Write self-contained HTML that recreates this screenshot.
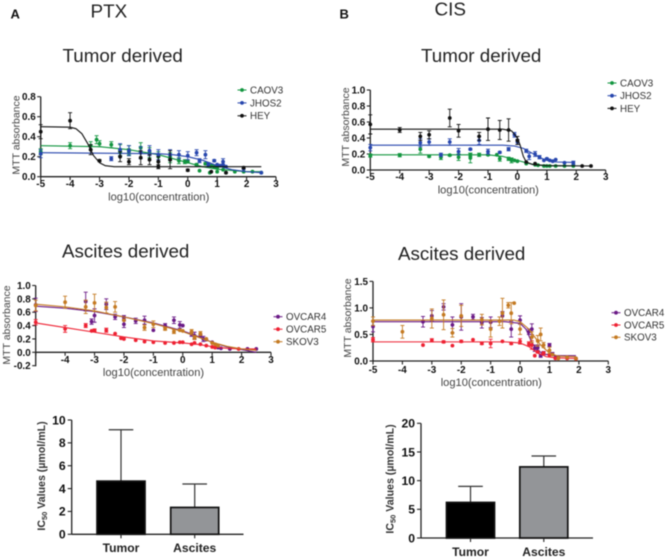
<!DOCTYPE html>
<html lang="en">
<head>
<meta charset="utf-8">
<title>PTX and CIS dose response charts</title>
<style>
html,body{margin:0;padding:0;background:#fff;}
body{width:666px;height:557px;overflow:hidden;}
svg{display:block;font-family:"Liberation Sans",Arial,sans-serif;filter:blur(0.5px);}
</style>
</head>
<body>
<svg id="figure" width="666" height="557" viewBox="0 0 666 557" xmlns="http://www.w3.org/2000/svg">
<text x="10.5" y="18.5" font-size="13" font-weight="bold" fill="#111">A</text>
<text x="339.5" y="18.5" font-size="13" font-weight="bold" fill="#111">B</text>
<text x="90.5" y="17.5" font-size="18.9" fill="#222">PTX</text>
<text x="434.5" y="15.5" font-size="18.9" fill="#222">CIS</text>
<text x="62.5" y="62" font-size="18.8" fill="#222">Tumor derived</text>
<text x="421" y="62" font-size="18.8" fill="#222">Tumor derived</text>
<text x="62" y="257.5" font-size="18.8" fill="#222">Ascites derived</text>
<text x="398" y="260" font-size="18.8" fill="#222">Ascites derived</text>
</svg>
<script>
// ---- Tick labels ----
const doseTicks = [-5,-4,-3,-2,-1,0,1,2,3];
const ascDoseTicks = [-4,-3,-2,-1,0,1,2,3];
const yTicksA = [0,0.2,0.4,0.6,0.8];
const yTicksB = [0,0.2,0.4,0.6,0.8,1.0];
const yTicksC = [-0.2,0,0.2,0.4,0.6,0.8,1.0];
const yTicksD = [0,0.5,1.0,1.5];
const barTicksA = [0,2,4,6,8,10];
const barTicksB = [0,5,10,15,20];
const barCategories = ["Tumor","Ascites"];

// ---- PTX tumor ----
const ptCaovX = [-5,-4,-3.3,-3.1,-3,-2.6,-2.3,-2.3,-2,-2,-1.6,-1.3,-1,-0.6,-0.6,-0.3,-0.1,0,0.3,0.4,0.6,0.75,0.8,0.9,1,1,1.2,1.3,1.6,1.9,2.2,2.5];
const ptCaovY = [.25,.31,.31,.37,.33,.32,.26,.24,.26,.25,.29,.24,.20,.18,.20,.16,.15,.15,.12,.06,.13,.04,.11,.10,.05,.09,.07,.04,.05,.05,.05,.04];
const ptCaovE = [.03,.03,.04,.04,.03,.03,.06,.03,.05,.03,.05,.05,.05,.04,.04,.03,.02,.01,.01,0,.01,0,0,0,0,0,0,0,0,0,0,0];
const ptCaovCurveX = [-5,-3,-2,-1,-0.5,0,0.5,1,2,2.5];
const ptCaovCurveY = [.31,.30,.27,.22,.18,.14,.10,.075,.05,.05];
const ptJhosX = [-5,-2.6,-2.3,-2,-1.6,-1.3,-1,-0.6,-0.3,0,0.3,0.4,0.6,0.7,0.9,1,1.1,1.2,1.2,1.3,1.9,2.5];
const ptJhosY = [.23,.18,.27,.26,.24,.26,.22,.22,.22,.21,.24,.16,.22,.12,.16,.12,.11,.15,.12,.10,.08,.04];
const ptJhosE = [.04,.02,.06,.05,.06,.05,.05,.05,.04,.04,.03,.02,.04,.02,.01,0,0,.03,0,0,0,0];
const ptJhosCurveX = [-5,-1,-0.5,0,0.5,1,1.5,2,2.5];
const ptJhosCurveY = [.24,.23,.22,.20,.165,.11,.07,.05,.04];
const ptHeyX = [-5,-4,-3.3,-3,-2.3,-2,-1.6,-1.3,-1,-1,-0.6,0,0.8,1.3,1.9];
const ptHeyY = [.45,.56,.27,.16,.20,.15,.19,.17,.15,.10,.17,.065,.05,.04,.09];
const ptHeyE = [.07,.08,.05,.01,.05,.03,.07,.05,.05,.02,.09,.01,0,0,.01];
const ptHeyCurveX = [-5,-4,-3.8,-3.6,-3.4,-3.3,-3.2,-3,-2.8,-2.5,2.5];
const ptHeyCurveY = [.50,.495,.48,.43,.33,.27,.21,.14,.11,.10,.10];

// ---- CIS tumor ----
const ctCaovX = [-5,-4,-3.3,-3,-2.6,-2.3,-2,-1.6,-1.6,-1.3,-1,-0.7,-0.6,-0.3,-0.2,-0.1,0,0.3,0.3,0.6,0.7,0.9,1,1.1,1.3,1.6,1.9];
const ctCaovY = [.18,.185,.26,.17,.16,.185,.16,.15,.19,.19,.19,.19,.14,.14,.12,.12,.11,.08,.09,.065,.06,.05,.05,.05,.05,.05,.05];
const ctCaovE = [.02,.02,.05,.01,.03,.01,.04,.06,.02,.02,.01,0,.03,.02,.03,0,0,0,0,0,0,0,0,0,0,0,0];
const ctCaovCurveX = [-5,-1,-0.5,0,0.3,0.6,1,1.9];
const ctCaovCurveY = [.19,.19,.17,.12,.09,.065,.05,.05];
const ctJhosX = [-5,-3.3,-3,-2.6,-2.3,-2,-1.6,-1.3,-1,-0.6,-0.3,-0.1,0,0.3,0.4,0.6,0.75,0.9,1,1.1,1.2,1.3,1.6,1.9];
const ctJhosY = [.28,.34,.35,.19,.35,.23,.26,.37,.23,.22,.26,.44,.35,.24,.17,.20,.16,.12,.14,.12,.11,.13,.09,.09];
const ctJhosE = [.04,.05,.04,.02,.04,.04,.01,.05,.03,.01,.02,.03,.03,.02,.04,.03,.02,0,.01,0,0,0,0,.02];
const ctJhosCurveX = [-5,-0.5,-0.1,0.2,0.5,0.8,1,1.3,1.9];
const ctJhosCurveY = [.31,.31,.30,.27,.21,.15,.12,.10,.095];
const ctHeyX = [-5,-4,-3.3,-3,-2.3,-2,-1.3,-1,-0.6,-0.3,0,0.3,0.6,2.2,2.5];
const ctHeyY = [.57,.50,.42,.44,.65,.49,.42,.51,.50,.50,.37,.10,.08,.05,.05];
const ctHeyE = [.12,.03,.05,.05,.11,.08,.05,.14,.12,.14,.05,0,0,0,0];
const ctHeyCurveX = [-5,-0.5,-0.2,0,0.1,0.2,0.3,0.5,1,2.5];
const ctHeyCurveY = [.51,.51,.49,.40,.30,.17,.10,.07,.055,.05];

// ---- PTX ascites ----
const paOv4X = [-5,-3.3,-3.1,-3,-2.6,-2.3,-2,-2,-1.6,-1.3,-1,-0.6,-0.3,-0.1,0,0.3,0.4,0.6,0.7,0.8,1,1.2,1.3,1.6,2.2,2.5];
const paOv4Y = [.71,.76,.46,.55,.72,.53,.42,.52,.47,.48,.33,.40,.48,.41,.40,.27,.25,.25,.20,.19,.15,.07,.06,.05,.05,.05];
const paOv4E = [.10,.14,.04,.10,.08,.04,.05,.03,.04,.06,0,.03,.05,.05,0,.03,.05,.02,.04,0,0,0,0,0,0,0];
const paOv4CurveX = [-5,-4,-3,-2,-1,0,0.5,1,1.5,2,2.5];
const paOv4CurveY = [.69,.66,.61,.53,.44,.32,.24,.15,.08,.04,0];
const paOv5X = [-5,-4,-3.3,-3.1,-3,-2.6,-2.3,-2.1,-2,-1.6,-1.3,-1,-0.6,-0.3,-0.1,0,0.3,0.4,0.6,0.8,1,1.1,1.9];
const paOv5Y = [.45,.35,.40,.32,.33,.33,.28,.21,.20,.18,.16,.15,.14,.14,.15,.15,.12,.14,.12,.10,.08,.07,.05];
const paOv5E = [.04,.05,.03,0,.02,.03,0,0,0,0,0,0,0,0,0,0,0,0,0,0,0,0,0];
const paOv5CurveX = [-5,-4,-3,-2,-1,0,0.5,1,1.5,2,2.5];
const paOv5CurveY = [.44,.37,.30,.23,.17,.14,.12,.085,.06,.05,.05];
const paSkX = [-5,-4,-3.3,-3,-2.6,-2.3,-2,-1.3,-1,-0.6,-0.3,-0.1,0,0.3,0.4,0.6,0.8,1,1.1,1.2];
const paSkY = [.70,.75,.68,.74,.67,.68,.48,.37,.42,.35,.31,.33,.32,.31,.22,.28,.20,.14,.12,.10];
const paSkE = [.08,.09,.10,.13,.08,.08,0,.04,.05,.02,.03,0,0,.03,.03,.03,0,0,0,0];
const paSkCurveX = [-5,-4,-3,-2,-1,0,0.5,1,1.5,2,2.5];
const paSkCurveY = [.72,.68,.62,.53,.43,.31,.23,.15,.09,.05,.03];

// ---- CIS ascites ----
const caOv4X = [-5,-3.3,-3,-2.6,-2.3,-2,-1.6,-1.3,-1,-0.6,-0.3,0,0.3,0.4,0.5,0.6,0.7,0.8,1,1.1,1.2,1.3,1.9];
const caOv4Y = [.65,.74,.85,1.02,.68,.83,.83,.72,.73,.85,.60,.77,.55,.60,.24,.25,.10,.15,.30,.13,.06,.07,.05];
const caOv4E = [.10,.10,.10,.06,.15,.25,.05,.10,.10,.08,.15,.08,.05,.10,.06,.05,.03,.03,.03,.03,0,0,0];
const caOv4CurveX = [-5,-0.5,0,0.2,0.4,0.6,0.8,1.2,1.9];
const caOv4CurveY = [.74,.74,.71,.60,.35,.20,.13,.10,.10];
const caOv5X = [-5,-3.3,-3,-2.6,-2.3,-2,-1.6,-1.3,-1,-0.6,-0.3,0,0.3,0.4,0.5,0.6,0.8,1,1.2,1.3,1.6,1.9];
const caOv5Y = [.40,.30,.39,.36,.29,.37,.40,.33,.33,.37,.33,.37,.32,.30,.10,.17,.15,.11,.05,.05,.05,.04];
const caOv5E = [.04,0,.03,.02,0,.02,0,.02,.08,0,.02,.05,.04,.08,0,.02,.02,0,0,0,0,0];
const caOv5CurveX = [-5,-0.5,0,0.3,0.6,0.9,1.2,1.9];
const caOv5CurveY = [.36,.36,.34,.27,.15,.08,.06,.05];
const caSkX = [-5,-4,-3,-2.6,-2.3,-2,-1.3,-1,-0.7,-0.6,-0.4,-0.3,-0.2,0,0.4,0.6,0.7,0.8,1,1.1,1.3,1.6,1.9];
const caSkY = [.75,.55,.80,.87,.53,.85,.78,.60,.75,.90,1.05,.90,1.09,.60,.45,.38,.50,.30,.20,.12,.05,.07,.05];
const caSkE = [.08,.12,.18,.28,.08,.20,.10,.15,.08,.28,.05,.20,0,.10,.10,.10,.12,.05,.06,0,0,0,0];
const caSkCurveX = [-5,-0.2,0,0.3,0.5,0.7,1,1.3,1.9];
const caSkCurveY = [.77,.77,.74,.60,.45,.30,.15,.09,.08];

// ---- IC50 bars ----
const ptxBarValues = [4.65,2.35];
const ptxBarUpper = [9.15,4.4];
const cisBarValues = [6.2,12.4];
const cisBarUpper = [9.0,14.3];

const NS = "http://www.w3.org/2000/svg";
const fig = document.getElementById("figure");
const GREEN="#12953f", BLUE="#2746ad", BLACK="#111111", PURPLE="#6a1a86", RED="#ee2233", ORANGE="#c47a22";

function make(tag, parent, attrs, text){
  const el = document.createElementNS(NS, tag);
  for (const k in attrs) el.setAttribute(k, attrs[k]);
  if (text !== undefined) el.textContent = text;
  parent.appendChild(el);
  return el;
}

function fmt(v){ return v.toFixed(1); }

function drawPanel(p){
  const sx = v => p.x0 + (v - (-5)) * (p.x1 - p.x0) / 8;
  const sy = v => p.yZero - v * p.yUnit;
  const g = make("g", fig, {});
  
  

  // axes
  const xAxis = make("line", g, {x1:sx(-5),x2:sx(3),y1:p.yZero+p.xAxisShift,y2:p.yZero+p.xAxisShift,stroke:"#222","stroke-width":1.3});
  
  
  const yAxis = make("line", g, {x1:sx(-5),x2:sx(-5),y1:sy(p.yTicks[p.yTicks.length-1]),y2:sy(p.yTicks[0])+0.6,stroke:"#222","stroke-width":1.3});
  
  

  doseTicks.forEach(t => {
    const tick = make("line", g, {x1:sx(t),x2:sx(t),y1:p.yZero,y2:p.yZero+3.5,stroke:"#222","stroke-width":1.1});
    
    
  });
  p.xLabels.forEach(t => {
    const lab = make("text", g, {x:sx(t),y:p.xLabelY,"text-anchor":"middle","font-size":9.9,"font-weight":"bold",fill:"#111"}, String(t));
    
    
  });
  p.yTicks.forEach(t => {
    const tick = make("line", g, {x1:sx(-5)-3.5,x2:sx(-5),y1:sy(t),y2:sy(t),stroke:"#222","stroke-width":1.1});
    
    
    const lab = make("text", g, {x:sx(-5)-5,y:sy(t)+3.5,"text-anchor":"end","font-size":9.9,"font-weight":"bold",fill:"#111"}, fmt(t));
    
    
  });

  const xt = make("text", g, {x:p.xTitleX,y:p.xTitleY,"text-anchor":"middle","font-size":11.1,fill:"#444"}, "log10(concentration)");
  
  
  const yt = make("text", g, {transform:"translate("+p.yTitleX+" "+p.yTitleY+") rotate(-90)","text-anchor":"middle","font-size":10.5,fill:"#444"}, "MTT absorbance");
  
  

  p.series.forEach((s, i) => {
    const sg = make("g", g, {});
    
    
    const pts = s.cx.map((v, k) => sx(v).toFixed(2) + "," + sy(s.cy[k]).toFixed(2)).join(" ");
    const curve = make("polyline", sg, {points:pts,fill:"none",stroke:s.color,"stroke-width":1.1,"stroke-linejoin":"round"});
    
    
    s.x.forEach((v, k) => {
      const px = sx(v), py = sy(s.y[k]), e = s.e[k];
      if (e > 0) {
        const top = sy(s.y[k] + e), bot = sy(s.y[k] - e);
        const bar = make("path", sg, {d:"M"+px+" "+top+"V"+bot+"M"+(px-2)+" "+top+"H"+(px+2)+"M"+(px-2)+" "+bot+"H"+(px+2),fill:"none",stroke:s.color,"stroke-width":0.9});
        
        
      }
      const dot = make("circle", sg, {cx:px,cy:py,r:1.9,fill:s.color});
      
      
    });
    const ly = p.legendY + i * p.legendStep;
    const lg = make("g", g, {});
    
    
    make("line", lg, {x1:p.legendX-4.5,x2:p.legendX+4.5,y1:ly,y2:ly,stroke:s.color,"stroke-width":1});
    make("circle", lg, {cx:p.legendX,cy:ly,r:1.9,fill:s.color});
    make("text", lg, {x:p.legendX+8,y:ly+3.4,"font-size":9.8,fill:"#333"}, s.label);
  });
}

function drawBars(b){
  const sy = v => b.yZero - v * b.yUnit;
  const g = make("g", fig, {});
  
  
  const xAxis = make("line", g, {x1:b.axisX,x2:b.axisEnd,y1:b.yZero,y2:b.yZero,stroke:"#222","stroke-width":1.3});
  
  
  const yAxis = make("line", g, {x1:b.axisX,x2:b.axisX,y1:sy(b.ticks[b.ticks.length-1]),y2:b.yZero,stroke:"#222","stroke-width":1.3});
  
  
  b.ticks.forEach(t => {
    const tick = make("line", g, {x1:b.axisX-4,x2:b.axisX,y1:sy(t),y2:sy(t),stroke:"#222","stroke-width":1.1});
    
    
    const lab = make("text", g, {x:b.axisX-6,y:sy(t)+4.3,"text-anchor":"end","font-size":12.2,"font-weight":"bold",fill:"#111"}, String(t));
    
    
  });
  barCategories.forEach((c, i) => {
    const cx = b.centers[i];
    const err = make("path", g, {d:"M"+cx+" "+sy(b.values[i])+"V"+sy(b.upper[i])+"M"+(cx-12.3)+" "+sy(b.upper[i])+"H"+(cx+12.3),fill:"none",stroke:"#333","stroke-width":1.2});
    
    
    const bar = make("rect", g, {x:cx-b.barW/2,y:sy(b.values[i]),width:b.barW,height:b.yZero-sy(b.values[i]),fill:b.fills[i],stroke:"#111","stroke-width":1.7});
    
    
    const tick = make("line", g, {x1:cx,x2:cx,y1:b.yZero,y2:b.yZero+4,stroke:"#222","stroke-width":1.1});
    
    
    const lab = make("text", g, {x:cx,y:b.labelY,"text-anchor":"middle","font-size":12.1,"font-weight":"bold",fill:"#222"}, c);
    
    
  });
  const yt = make("text", g, {transform:"translate("+b.titleX+" "+b.titleY+") rotate(-90)","text-anchor":"middle","font-size":10.6,"font-weight":"bold",fill:"#333"});
  
  
  make("tspan", yt, {}, "IC");
  make("tspan", yt, {"font-size":7.5,dy:2}, "50");
  make("tspan", yt, {dy:-2}, " Values (\u00b5mol/mL)");
}

drawPanel({name:"ptx-tumor-chart",x0:40.7,x1:276,yZero:176.7,yUnit:100,xAxisShift:0,yTicks:yTicksA,xLabels:doseTicks,xLabelY:186.8,
  xTitleX:158.7,xTitleY:200.7,yTitleX:19.5,yTitleY:135,legendX:242,legendY:90,legendStep:12.9,
  series:[
   {label:"CAOV3",color:GREEN,x:ptCaovX,y:ptCaovY,e:ptCaovE,cx:ptCaovCurveX,cy:ptCaovCurveY},
   {label:"JHOS2",color:BLUE,x:ptJhosX,y:ptJhosY,e:ptJhosE,cx:ptJhosCurveX,cy:ptJhosCurveY},
   {label:"HEY",color:BLACK,x:ptHeyX,y:ptHeyY,e:ptHeyE,cx:ptHeyCurveX,cy:ptHeyCurveY}]});

drawPanel({name:"cis-tumor-chart",x0:370.3,x1:605.7,yZero:170,yUnit:80,xAxisShift:0,yTicks:yTicksB,xLabels:doseTicks,xLabelY:180.2,
  xTitleX:488.3,xTitleY:193.5,yTitleX:349,yTitleY:127,legendX:612,legendY:83,legendStep:12.7,
  series:[
   {label:"CAOV3",color:GREEN,x:ctCaovX,y:ctCaovY,e:ctCaovE,cx:ctCaovCurveX,cy:ctCaovCurveY},
   {label:"JHOS2",color:BLUE,x:ctJhosX,y:ctJhosY,e:ctJhosE,cx:ctJhosCurveX,cy:ctJhosCurveY},
   {label:"HEY",color:BLACK,x:ctHeyX,y:ctHeyY,e:ctHeyE,cx:ctHeyCurveX,cy:ctHeyCurveY}]});

drawPanel({name:"ptx-ascites-chart",x0:35.7,x1:271,yZero:352.3,yUnit:66.8,xAxisShift:0,yTicks:yTicksC,xLabels:ascDoseTicks,xLabelY:363,
  xTitleX:153.5,xTitleY:376,yTitleX:10,yTitleY:325,legendX:278,legendY:316.7,legendStep:12.5,
  series:[
   {label:"OVCAR4",color:PURPLE,x:paOv4X,y:paOv4Y,e:paOv4E,cx:paOv4CurveX,cy:paOv4CurveY},
   {label:"OVCAR5",color:RED,x:paOv5X,y:paOv5Y,e:paOv5E,cx:paOv5CurveX,cy:paOv5CurveY},
   {label:"SKOV3",color:ORANGE,x:paSkX,y:paSkY,e:paSkE,cx:paSkCurveX,cy:paSkCurveY}]});

drawPanel({name:"cis-ascites-chart",x0:373,x1:608.3,yZero:361,yUnit:53.1,xAxisShift:0,yTicks:yTicksD,xLabels:doseTicks,xLabelY:373,
  xTitleX:491.3,xTitleY:386,yTitleX:351,yTitleY:318,legendX:616,legendY:312.7,legendStep:12.3,
  series:[
   {label:"OVCAR4",color:PURPLE,x:caOv4X,y:caOv4Y,e:caOv4E,cx:caOv4CurveX,cy:caOv4CurveY},
   {label:"OVCAR5",color:RED,x:caOv5X,y:caOv5Y,e:caOv5E,cx:caOv5CurveX,cy:caOv5CurveY},
   {label:"SKOV3",color:ORANGE,x:caSkX,y:caSkY,e:caSkE,cx:caSkCurveX,cy:caSkCurveY}]});

drawBars({name:"ptx-ic50-bar-chart",yZero:534.3,yUnit:11.43,axisX:71.7,axisEnd:243.5,ticks:barTicksA,values:ptxBarValues,upper:ptxBarUpper,
  centers:[121,194.7],barW:48,fills:["#000000","#939598"],labelY:552,titleX:45,titleY:476});

drawBars({name:"cis-ic50-bar-chart",yZero:538,yUnit:5.735,axisX:421,axisEnd:593,ticks:barTicksB,values:cisBarValues,upper:cisBarUpper,
  centers:[470.5,543.8],barW:48,fills:["#000000","#939598"],labelY:556,titleX:393.5,titleY:479});
</script>
</body>
</html>
